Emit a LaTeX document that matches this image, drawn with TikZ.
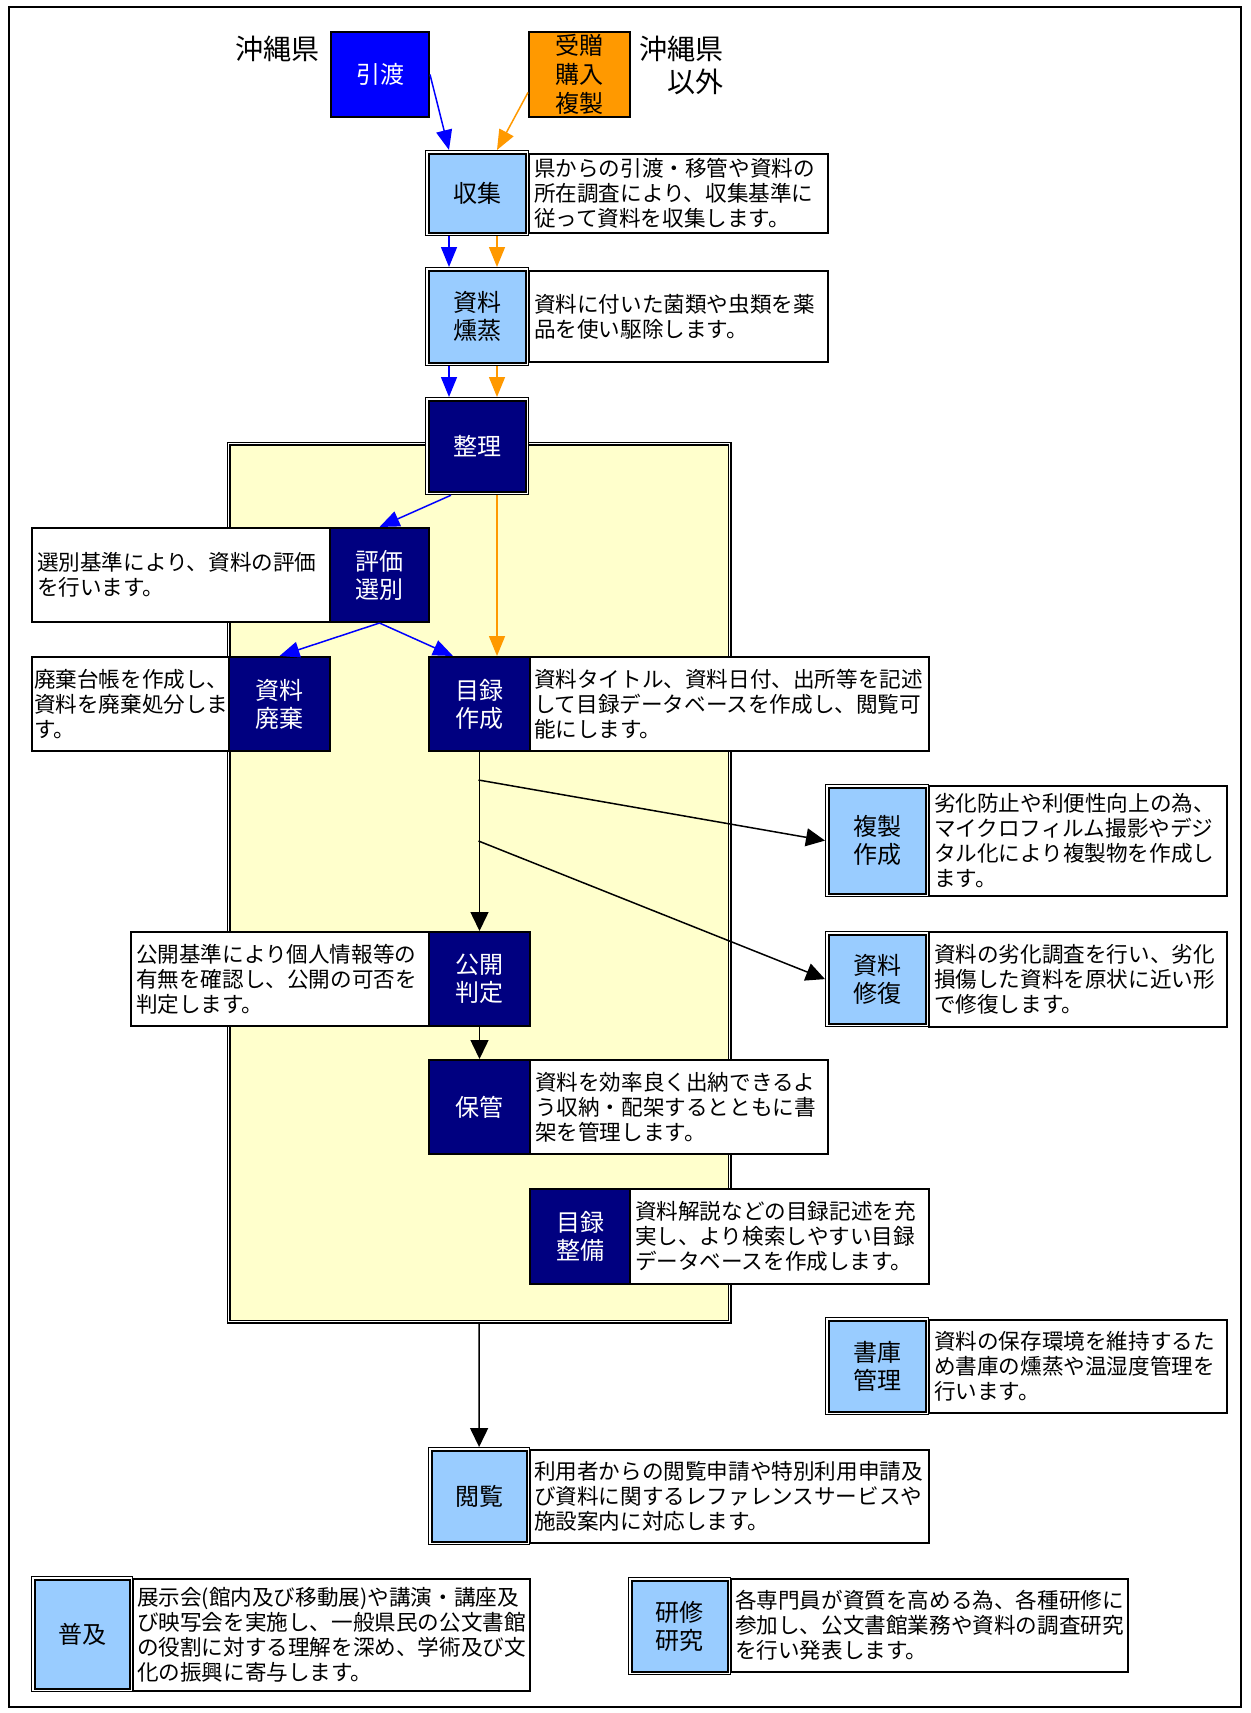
\documentclass[tikz,border=0pt]{standalone}
\usepackage{fontspec}
\setmainfont{Noto Sans CJK JP}
\usetikzlibrary{arrows.meta}
\definecolor{lb}{HTML}{99CCFF}
\definecolor{navy}{HTML}{000080}
\definecolor{orng}{HTML}{FF9900}
\definecolor{blu}{HTML}{0000FF}
\definecolor{ylw}{HTML}{FFFFCC}
\newcommand\bodyfont{\fontsize{21.6pt}{25pt}\selectfont}
\newcommand\labfont{\fontsize{24pt}{28pt}\selectfont}
\newcommand\bigfont{\fontsize{28pt}{32pt}\selectfont}
\begin{document}
\begin{tikzpicture}[x=1pt,y=-1pt,
  dbl/.style={draw=black, line width=1.2pt, path picture={
     \draw[white,line width=1.3pt] ([shift={(1.25pt,-1.25pt)}]path picture bounding box.north west) rectangle ([shift={(-1.25pt,1.25pt)}]path picture bounding box.south east);
     \draw[black,line width=2.2pt] ([shift={(3pt,-3pt)}]path picture bounding box.north west) rectangle ([shift={(-3pt,3pt)}]path picture bounding box.south east);}},
  lbbox/.style={dbl, fill=lb, text=black, font=\labfont, align=center, anchor=north west, inner sep=0pt},
  nvdbl/.style={dbl, fill=navy, text=white, font=\labfont, align=center, anchor=north west, inner sep=0pt},
  nvbox/.style={draw=black, line width=2pt, fill=navy, text=white, font=\labfont, align=center, anchor=north west, inner sep=0pt},
  colbox/.style={draw=black, line width=2pt, font=\labfont, align=center, anchor=north west, inner sep=0pt},
  txbox/.style={draw=black, line width=2pt, fill=white, font=\bodyfont, align=left, anchor=north west, inner xsep=5pt, inner ysep=0pt},
  barrow/.style={draw=blu, line width=1.5pt, -{Triangle[length=20pt,width=16pt]}},
  oarrow/.style={draw=orng, line width=1.5pt, -{Triangle[length=20pt,width=16pt]}},
  karrow/.style={draw=black, line width=1.5pt, -{Triangle[length=19pt,width=18pt]}},
  plain/.style={font=\bigfont, inner sep=0pt}
]
\useasboundingbox (0,0) rectangle (1250,1713);
\fill[white] (0,0) rectangle (1250,1713);
\draw[line width=2.5pt] (9,7) rectangle (1241,1707);

% yellow frame
\node[draw=black, line width=1.3pt, double=white, double distance=1.2pt, fill=ylw, minimum width=501pt, minimum height=878pt, anchor=north west, inner sep=0pt] (yf) at (228,443) {};

% top
\node[plain] (oki1) at (277,49) {沖縄県};
\node[plain, align=right, font=\fontsize{28pt}{33pt}\selectfont] (oki2) at (681,65) {沖縄県\\以外};
\node[colbox, fill=blu, text=white, minimum width=98pt, minimum height=85pt] (hiki) at (330,31) {引渡};
\node[colbox, fill=orng, text=black, minimum width=101pt, minimum height=85pt, font=\fontsize{24pt}{29pt}\selectfont] (juzo) at (528,31) {受贈\\購入\\複製};

% collection
\node[lbbox, minimum width=103pt, minimum height=85pt] (shu) at (425,150) {収集};
\node[txbox, text width=289pt, minimum height=79pt] (shuT) at (528,153) {県からの引渡・移管や資料の\\所在調査により、収集基準に\\従って資料を収集します。};

\node[lbbox, minimum width=103pt, minimum height=98pt] (kun) at (425,267) {資料\\燻蒸};
\node[txbox, text width=289pt, minimum height=91pt] (kunT) at (528,270) {資料に付いた菌類や虫類を薬\\品を使い駆除します。};

\node[nvdbl, minimum width=103pt, minimum height=97pt] (seiri) at (425,397) {整理};

\node[txbox, text width=288pt, minimum height=94pt] (hyokaT) at (31,527) {選別基準により、資料の評価\\を行います。};
\node[nvbox, minimum width=99pt, minimum height=94pt] (hyoka) at (329,527) {評価\\選別};

\node[txbox, inner xsep=2pt, text width=193pt, minimum height=94pt] (haikiT) at (31,656) {廃棄台帳を作成し、\\資料を廃棄処分しま\\す。};
\node[nvbox, minimum width=101pt, minimum height=94pt] (haiki) at (228,656) {資料\\廃棄};

\node[nvbox, minimum width=101pt, minimum height=94pt] (moku) at (428,656) {目録\\作成};
\node[txbox, inner xsep=4pt, text width=391pt, minimum height=94pt] (mokuT) at (529,656) {資料タイトル、資料日付、出所等を記述\\して目録データベースを作成し、閲覧可\\能にします。};

\node[lbbox, minimum width=103pt, minimum height=112pt] (fuku) at (825,784) {複製\\作成};
\node[txbox, text width=288pt, minimum height=110pt] (fukuT) at (928,785) {劣化防止や利便性向上の為、\\マイクロフィルム撮影やデジ\\タル化により複製物を作成し\\ます。};

\node[lbbox, minimum width=103pt, minimum height=95pt] (shufuku) at (825,931) {資料\\修復};
\node[txbox, text width=288pt, minimum height=95pt] (shufukuT) at (928,931) {資料の劣化調査を行い、劣化\\損傷した資料を原状に近い形\\で修復します。};

\node[txbox, text width=288pt, minimum height=94pt] (kokaiT) at (130,931) {公開基準により個人情報等の\\有無を確認し、公開の可否を\\判定します。};
\node[nvbox, minimum width=101pt, minimum height=94pt] (kokai) at (428,931) {公開\\判定};

\node[nvbox, minimum width=101pt, minimum height=94pt] (hokan) at (428,1059) {保管};
\node[txbox, text width=288pt, minimum height=94pt] (hokanT) at (529,1059) {資料を効率良く出納できるよ\\う収納・配架するとともに書\\架を管理します。};

\node[nvbox, minimum width=100pt, minimum height=95pt] (seibi) at (529,1188) {目録\\整備};
\node[txbox, text width=289pt, minimum height=95pt] (seibiT) at (629,1188) {資料解説などの目録記述を充\\実し、より検索しやすい目録\\データベースを作成します。};

\node[lbbox, minimum width=103pt, minimum height=97pt] (shoko) at (825,1317) {書庫\\管理};
\node[txbox, text width=288pt, minimum height=93pt] (shokoT) at (928,1319) {資料の保存環境を維持するた\\め書庫の燻蒸や温湿度管理を\\行います。};

\node[lbbox, minimum width=101pt, minimum height=97pt] (etsu) at (428,1447) {閲覧};
\node[txbox, inner xsep=4pt, text width=391pt, minimum height=93pt] (etsuT) at (529,1449) {利用者からの閲覧申請や特別利用申請及\\び資料に関するレファレンスサービスや\\施設案内に対応します。};

\node[lbbox, minimum width=101pt, minimum height=115pt] (fukyu) at (31,1576) {普及};
\node[txbox, inner xsep=4pt, text width=389pt, minimum height=112pt] (fukyuT) at (132,1578) {展示会(館内及び移動展)や講演・講座及\\び映写会を実施し、一般県民の公文書館\\の役割に対する理解を深め、学術及び文\\化の振興に寄与します。};

\node[lbbox, minimum width=102pt, minimum height=97pt] (ken) at (628,1577) {研修\\研究};
\node[txbox, inner xsep=4pt, text width=389pt, minimum height=93pt] (kenT) at (730,1578) {各専門員が資質を高める為、各種研修に\\参加し、公文書館業務や資料の調査研究\\を行い発表します。};

% connectors
\draw[barrow] (hiki.east) -- ([xshift=24pt]shu.north west);
\draw[oarrow] ([yshift=-18pt]juzo.west) -- ([xshift=72pt]shu.north west);
\draw[barrow] ([xshift=24pt]shu.south west) -- ([xshift=24pt]kun.north west);
\draw[oarrow] ([xshift=72pt]shu.south west) -- ([xshift=72pt]kun.north west);
\draw[barrow] ([xshift=24pt]kun.south west) -- ([xshift=24pt]seiri.north west);
\draw[oarrow] ([xshift=72pt]kun.south west) -- ([xshift=72pt]seiri.north west);
\draw[barrow] ([xshift=26pt]seiri.south west) -- (hyoka.north);
\draw[oarrow] ([xshift=72pt]seiri.south west) -- ([xshift=69pt]moku.north west);
\draw[barrow] (hyoka.south) -- (haiki.north);
\draw[barrow] (hyoka.south) -- ([xshift=25pt]moku.north west);

\coordinate (b1) at (478.5,780);
\coordinate (b2) at (478.5,841);
\draw[karrow] (moku.south) -- (kokai.north);
\draw[karrow] (b1) -- (fuku.west);
\draw[karrow] (b2) -- (shufuku.west);
\draw[karrow] (kokai.south) -- (hokan.north);
\draw[karrow] (yf.south) -- (etsu.north);
\end{tikzpicture}
\end{document}
